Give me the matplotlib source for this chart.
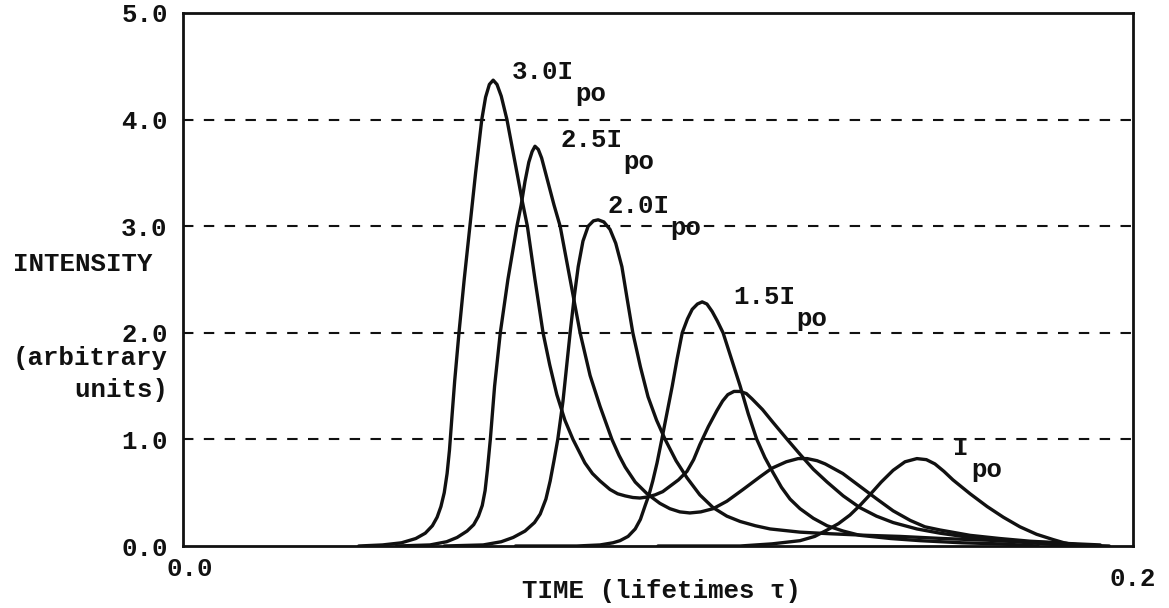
import matplotlib
matplotlib.use("Agg")
import matplotlib.pyplot as plt
from matplotlib.transforms import ScaledTranslation

# ---- data (time in lifetimes, intensity in arbitrary units) ----
t_30 = [0.0370, 0.0420, 0.0460, 0.0490, 0.0510, 0.0525, 0.0535, 0.0543, 0.0550,
        0.0556, 0.0561, 0.0566, 0.0572, 0.0581, 0.0592, 0.0604, 0.0616, 0.0629,
        0.0637, 0.0645, 0.0653, 0.0661, 0.0670, 0.0682, 0.0693, 0.0704, 0.0714,
        0.0725, 0.0741, 0.0758, 0.0772, 0.0787, 0.0804, 0.0821, 0.0846, 0.0862,
        0.0878, 0.0899, 0.0915, 0.0931, 0.0947, 0.0962, 0.0978, 0.0994, 0.1010,
        0.1025, 0.1043, 0.1061, 0.1075, 0.1088, 0.1106, 0.1124, 0.1136, 0.1147,
        0.1160, 0.1173, 0.1186, 0.1198, 0.1220, 0.1242, 0.1272, 0.1299, 0.1327,
        0.1356, 0.1390, 0.1425, 0.1460, 0.1495, 0.1545, 0.1594, 0.1657, 0.1720,
        0.1783, 0.1846, 0.1900]
i_30 = [0.00, 0.01, 0.03, 0.07, 0.12, 0.19, 0.27, 0.37, 0.50,
        0.68, 0.90, 1.20, 1.55, 2.00, 2.50, 3.00, 3.50, 4.00,
        4.21, 4.33, 4.37, 4.33, 4.22, 4.00, 3.74, 3.48, 3.24,
        3.00, 2.50, 2.00, 1.70, 1.42, 1.18, 1.00, 0.78, 0.68,
        0.61, 0.53, 0.49, 0.47, 0.455, 0.45, 0.46, 0.48, 0.51,
        0.56, 0.62, 0.70, 0.81, 0.95, 1.12, 1.27, 1.36, 1.42,
        1.45, 1.45, 1.43, 1.38, 1.28, 1.16, 1.00, 0.86, 0.72,
        0.60, 0.47, 0.36, 0.28, 0.22, 0.16, 0.12, 0.08, 0.05,
        0.03, 0.01, 0.00]

t_25 = [0.0450, 0.0520, 0.0555, 0.0577, 0.0598, 0.0612, 0.0622, 0.0630, 0.0636,
        0.0641, 0.0647, 0.0656, 0.0668, 0.0684, 0.0703, 0.0712,
        0.0720, 0.0728, 0.0735, 0.0741, 0.0748, 0.0755, 0.0768, 0.0781, 0.0794,
        0.0815, 0.0836, 0.0857, 0.0878, 0.0903, 0.0918, 0.0931, 0.0952, 0.0977,
        0.1004, 0.1025, 0.1046, 0.1067, 0.1090, 0.1116, 0.1145, 0.1179, 0.1215,
        0.1240, 0.1270, 0.1295, 0.1314, 0.1335, 0.1352, 0.1389, 0.1425, 0.1461,
        0.1495, 0.1531, 0.1562, 0.1594, 0.1657, 0.1720, 0.1783, 0.1846, 0.1909]
i_25 = [0.00, 0.01, 0.04, 0.08, 0.14, 0.20, 0.28, 0.38, 0.52,
        0.72, 1.00, 1.50, 2.00, 2.50, 3.00, 3.20,
        3.42, 3.60, 3.70, 3.75, 3.72, 3.64, 3.42, 3.20, 3.00,
        2.50, 2.00, 1.60, 1.31, 1.00, 0.85, 0.74, 0.60, 0.49,
        0.40, 0.35, 0.32, 0.31, 0.32, 0.35, 0.42, 0.53, 0.65,
        0.73, 0.79, 0.82, 0.82, 0.80, 0.77, 0.68, 0.56, 0.44,
        0.33, 0.24, 0.18, 0.15, 0.10, 0.07, 0.045, 0.03, 0.00]

t_20 = [0.0550, 0.0632, 0.0670, 0.0695, 0.0720, 0.0740, 0.0752, 0.0764, 0.0773,
        0.0781, 0.0789, 0.0800, 0.0815, 0.0824, 0.0832, 0.0842, 0.0853, 0.0864,
        0.0874, 0.0886, 0.0899, 0.0911, 0.0924, 0.0935, 0.0947, 0.0963, 0.0979,
        0.0997, 0.1015, 0.1038, 0.1061, 0.1088, 0.1116, 0.1145, 0.1173, 0.1205,
        0.1236, 0.1299, 0.1362, 0.1440, 0.1509, 0.1600, 0.1720, 0.1830, 0.1931]
i_20 = [0.00, 0.01, 0.04, 0.08, 0.14, 0.22, 0.30, 0.44, 0.61,
        0.80, 1.00, 1.36, 2.00, 2.35, 2.62, 2.86, 3.00, 3.05,
        3.06, 3.04, 2.97, 2.84, 2.62, 2.32, 2.00, 1.68, 1.40,
        1.18, 1.00, 0.80, 0.64, 0.48, 0.36, 0.28, 0.23, 0.19,
        0.16, 0.13, 0.115, 0.10, 0.09, 0.07, 0.05, 0.03, 0.01]

t_15 = [0.0700, 0.0829, 0.0878, 0.0905, 0.0920, 0.0937, 0.0952, 0.0963, 0.0973,
        0.0981, 0.0989, 0.0998, 0.1008, 0.1019, 0.1030, 0.1040, 0.1051, 0.1062,
        0.1072, 0.1083, 0.1093, 0.1103, 0.1114, 0.1125, 0.1137, 0.1155, 0.1173,
        0.1190, 0.1208, 0.1225, 0.1242, 0.1260, 0.1278, 0.1299, 0.1327, 0.1356,
        0.1390, 0.1425, 0.1490, 0.1552, 0.1640, 0.1720, 0.1800]
i_15 = [0.00, 0.00, 0.01, 0.03, 0.05, 0.09, 0.16, 0.25, 0.38,
        0.48, 0.61, 0.78, 1.00, 1.25, 1.50, 1.75, 2.00, 2.13,
        2.22, 2.27, 2.29, 2.27, 2.20, 2.11, 2.00, 1.75, 1.50,
        1.24, 1.00, 0.83, 0.69, 0.55, 0.44, 0.35, 0.26, 0.19,
        0.14, 0.10, 0.07, 0.05, 0.03, 0.02, 0.00]

t_10 = [0.1000, 0.1173, 0.1240, 0.1299, 0.1330, 0.1356, 0.1380, 0.1404, 0.1425,
        0.1446, 0.1470, 0.1495, 0.1520, 0.1545, 0.1565, 0.1583, 0.1602, 0.1621,
        0.1657, 0.1693, 0.1727, 0.1762, 0.1797, 0.1832, 0.1855, 0.1878, 0.1950]
i_10 = [0.00, 0.00, 0.02, 0.05, 0.09, 0.15, 0.21, 0.29, 0.38,
        0.48, 0.60, 0.71, 0.79, 0.82, 0.81, 0.77, 0.70, 0.62,
        0.49, 0.37, 0.27, 0.18, 0.11, 0.06, 0.03, 0.01, 0.00]

curves = [(t_30, i_30), (t_25, i_25), (t_20, i_20), (t_15, i_15), (t_10, i_10)]

y_ticks = [0.0, 1.0, 2.0, 3.0, 4.0, 5.0]
y_tick_labels = ["0.0", "1.0", "2.0", "3.0", "4.0", "5.0"]
x_ticks = [0.0, 0.2]
x_tick_labels = ["0.0", "0.2"]
grid_levels = [1.0, 2.0, 3.0, 4.0]

# curve labels: (main text, subscript, t, intensity)
labels = [("3.0I", "po", 0.0693, 4.45),
          ("2.5I", "po", 0.0794, 3.81),
          ("2.0I", "po", 0.0893, 3.19),
          ("1.5I", "po", 0.1158, 2.34),
          ("I", "po", 0.1621, 0.92)]

W, H = 1169, 608
FONT = "Liberation Mono"
FS = 18.5
INK = "#111111"

fig = plt.figure(figsize=(W / 100, H / 100), dpi=100)
fig.patch.set_facecolor("white")
ax = fig.add_axes([183 / W, 1 - 546 / H, (1133 - 183) / W, (546 - 13) / H])

for lvl in grid_levels:
    ax.axhline(lvl, color=INK, lw=1.5, linestyle=(0, (5, 5)), zorder=1)

for t, i in curves:
    ax.plot(t, i, color=INK, lw=2.4, solid_joinstyle="round", solid_capstyle="round", zorder=3)

ax.set_xlim(0.0, 0.2)
ax.set_ylim(0.0, 5.0)
for s in ax.spines.values():
    s.set_linewidth(2.0)
    s.set_color(INK)
    s.set_zorder(4)

ax.set_yticks(y_ticks)
ax.set_yticklabels(y_tick_labels, fontfamily=FONT, fontsize=FS, fontweight="bold", color=INK)
ax.set_xticks(x_ticks)
ax.set_xticklabels(x_tick_labels, fontfamily=FONT, fontsize=FS, fontweight="bold", color=INK)
ax.tick_params(axis="y", length=0, pad=11)
ax.tick_params(axis="x", length=0, pad=8)
xl = ax.get_xticklabels()
xl[0].set_transform(xl[0].get_transform() + ScaledTranslation(7 / 100, 0, fig.dpi_scale_trans))
xl[1].set_transform(xl[1].get_transform() + ScaledTranslation(0, -10 / 100, fig.dpi_scale_trans))

for main, sub, t, i in labels:
    ax.text(t, i, main, fontfamily=FONT, fontsize=FS, fontweight="bold",
            color=INK, ha="left", va="center", zorder=5)
    n = len(main)
    ax.text(t, i, sub, fontfamily=FONT, fontsize=FS, fontweight="bold", color=INK,
            ha="left", va="center", zorder=5,
            transform=ax.transData + ScaledTranslation(n * 15 / 100 + 3 / 100, -22 / 100,
                                                        fig.dpi_scale_trans))

def ftext(x, y, s, **kw):
    fig.text(x / W, 1 - y / H, s, fontfamily=FONT, fontsize=FS, fontweight="bold",
             color=INK, va="center", **kw)

ftext(13, 264, "INTENSITY", ha="left")
ftext(13, 358, "(arbitrary", ha="left")
ftext(13, 390, "    units)", ha="left")
ftext(661, 591, "TIME (lifetimes τ)", ha="center")

fig.savefig("out.png", dpi=100, facecolor="white")
